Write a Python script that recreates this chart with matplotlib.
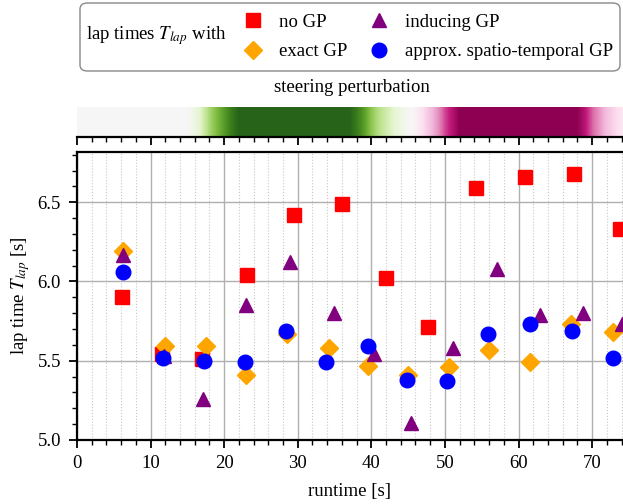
import numpy as np
import matplotlib.pyplot as plt
from matplotlib.lines import Line2D
from matplotlib.patches import FancyBboxPatch
from matplotlib.ticker import MultipleLocator

plt.rcParams['font.family'] = 'serif'
plt.rcParams['font.serif'] = ['Liberation Serif', 'DejaVu Serif']
plt.rcParams['mathtext.fontset'] = 'stix'
plt.rcParams['font.size'] = 13.5

# lap times [s] against the runtime [s] at which the lap finished
t_no_gp = [6.1, 11.6, 17.0, 23.1, 29.5, 36.0, 42.0, 47.7, 54.2, 60.9, 67.6, 73.8]
T_no_gp = [5.90, 5.54, 5.51, 6.04, 6.42, 6.49, 6.02, 5.71, 6.59, 6.66, 6.68, 6.33]

t_exact = [6.3, 12.0, 17.5, 22.9, 28.6, 34.2, 39.6, 45.0, 50.5, 56.0, 61.5, 67.2, 72.9]
T_exact = [6.19, 5.59, 5.59, 5.41, 5.67, 5.58, 5.47, 5.41, 5.46, 5.57, 5.49, 5.73, 5.68]

t_inducing = [6.3, 11.8, 17.1, 22.9, 29.0, 34.9, 40.3, 45.4, 51.1, 57.1, 62.9, 68.7, 74.0]
T_inducing = [6.17, 5.53, 5.26, 5.85, 6.12, 5.80, 5.54, 5.11, 5.58, 6.08, 5.79, 5.80, 5.73]

t_approx = [6.2, 11.7, 17.3, 22.8, 28.4, 33.9, 39.5, 44.8, 50.3, 55.9, 61.6, 67.3, 72.8]
T_approx = [6.06, 5.52, 5.50, 5.49, 5.69, 5.49, 5.59, 5.38, 5.37, 5.67, 5.73, 5.69, 5.52]

# steering perturbation (normalised), one value per second of runtime, t = 0..74
perturbation = [0]*16 + [0.1, 0.25, 0.45, 0.6, 0.75, 0.9] + [1]*16 + \
    [0.9, 0.75, 0.55, 0.4, 0.3, 0.2, 0.1, 0.02, -0.05, -0.2, -0.35, -0.5, -0.7, -0.85] + \
    [-1]*17 + [-0.85, -0.65, -0.5, -0.35, -0.25, -0.15]

xmax = 74.2

fig = plt.figure(figsize=(6.23, 5.04), dpi=100)

#main scatter axes
ax = fig.add_axes([77/623, 1-440/504, (623-77)/623, (440-152)/504])
ax.plot(t_no_gp, T_no_gp, 's', color='red', ms=9.5, zorder=3)
ax.plot(t_exact, T_exact, 'D', color='orange', ms=9, zorder=4)
ax.plot(t_inducing, T_inducing, '^', color='purple', ms=10, zorder=5)
ax.plot(t_approx, T_approx, 'o', color='blue', ms=10.5, zorder=6)

ax.set_xlim(0, xmax)
ax.set_ylim(5.0, 6.817)
ax.xaxis.set_major_locator(MultipleLocator(10))
ax.xaxis.set_minor_locator(MultipleLocator(2))
ax.yaxis.set_major_locator(MultipleLocator(0.5))
ax.yaxis.set_minor_locator(MultipleLocator(0.1))
ax.grid(which='major', color='#b0b0b0', lw=1)
ax.grid(which='minor', axis='x', color='#c8c8c8', lw=0.8, ls=':')
ax.set_axisbelow(True)
ax.spines['right'].set_visible(False)
for s in ['top', 'left', 'bottom']:
    ax.spines[s].set_linewidth(1.6)
ax.tick_params(which='major', length=6, width=1.3)
ax.tick_params(which='minor', length=3.5, width=1.0)
ax.tick_params(axis='x', which='major', pad=5)
ax.tick_params(axis='y', which='major', pad=5.5)
ax.set_xlabel('runtime [s]', labelpad=8)
ax.set_ylabel('lap time $T_{lap}$ [s]')

#perturbation strip
cax = fig.add_axes([77/623, 1-137/504, (623-77)/623, 30/504])
n = len(perturbation)
cax.imshow([perturbation], cmap='PiYG', vmin=-1, vmax=1, aspect='auto',
           extent=(-0.5, n - 0.5, 0, 1), interpolation='bilinear',
           interpolation_stage='data')
cax.set_xlim(0, xmax)
cax.set_ylim(0, 1)
cax.set_yticks([])
cax.xaxis.set_major_locator(MultipleLocator(10))
cax.xaxis.set_minor_locator(MultipleLocator(2))
cax.tick_params(labelbottom=False)
cax.tick_params(which='major', length=6, width=1.3)
cax.tick_params(which='minor', length=3.5, width=1.0)
for s in ['top', 'left', 'right']:
    cax.spines[s].set_visible(False)
cax.spines['bottom'].set_linewidth(1.6)
fig.text(352/623, 1-88/504, 'steering perturbation', ha='center', va='center')

#legend box at the top
frame = FancyBboxPatch((80/623, 1-71/504), (620-80)/623, (71-3)/504,
                       boxstyle='round,pad=0,rounding_size=0.012',
                       transform=fig.transFigure, ec='#888888', fc='white', lw=1)
fig.patches.append(frame)
fig.text(86/623, 1-36/504, 'lap times $T_{lap}$ with', ha='left', va='center')
handles = [Line2D([], [], ls='none', marker='s', color='red', ms=9.5, label='no GP'),
           Line2D([], [], ls='none', marker='D', color='orange', ms=9, label='exact GP'),
           Line2D([], [], ls='none', marker='^', color='purple', ms=10, label='inducing GP'),
           Line2D([], [], ls='none', marker='o', color='blue', ms=10.5, label='approx. spatio-temporal GP')]
fig.legend(handles=handles, ncol=2, loc='center left', bbox_to_anchor=(232/623, 1-37/504),
           frameon=False, handlelength=1.2, handletextpad=0.8, columnspacing=1.1,
           labelspacing=0.66, borderpad=0)

fig.savefig('out.png', dpi=100)
